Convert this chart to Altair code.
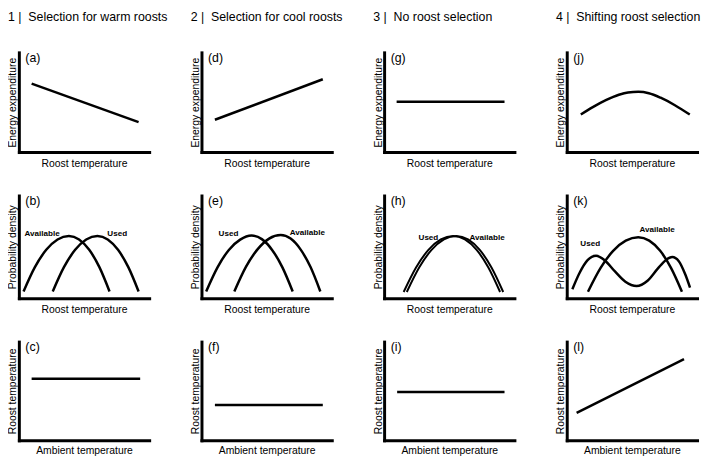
import altair as alt
import pandas as pd

FONT = "Liberation Sans"

# ---------------- data ----------------
col_numbers = ["1", "2", "3", "4"]
col_headers = ["Selection for warm roosts", "Selection for cool roosts",
               "No roost selection", "Shifting roost selection"]
y_titles = ["Energy expenditure", "Probability density", "Roost temperature"]
x_titles = ["Roost temperature", "Roost temperature", "Ambient temperature"]
letters = [["(a)", "(b)", "(c)"], ["(d)", "(e)", "(f)"],
           ["(g)", "(h)", "(i)"], ["(j)", "(k)", "(l)"]]

# row 1 : energy expenditure vs roost temperature
a_x = [0.098, 0.919]
a_y = [0.686, 0.300]
d_x = [0.103, 0.931]
d_y = [0.324, 0.730]
g_x = [0.096, 0.924]
g_y = [0.505, 0.505]
j_x = [0.108, 0.20, 0.30, 0.40, 0.47, 0.549, 0.63, 0.72, 0.83, 0.944]
j_y = [0.376, 0.45, 0.52, 0.575, 0.598, 0.604, 0.59, 0.545, 0.47, 0.376]

# row 2 : probability density of roost temperature (available / used)
b_avail_x = [0.036, 0.123, 0.210, 0.297, 0.384, 0.462, 0.540, 0.618, 0.696]
b_avail_y = [0.065, 0.302, 0.471, 0.572, 0.606, 0.572, 0.471, 0.302, 0.065]
b_used_x = [0.260, 0.346, 0.432, 0.517, 0.603, 0.682, 0.761, 0.840, 0.919]
b_used_y = [0.065, 0.302, 0.471, 0.572, 0.606, 0.572, 0.471, 0.302, 0.065]

e_used_x = [0.036, 0.123, 0.210, 0.297, 0.384, 0.463, 0.542, 0.621, 0.700]
e_used_y = [0.065, 0.300, 0.470, 0.570, 0.610, 0.575, 0.470, 0.300, 0.065]
e_avail_x = [0.252, 0.341, 0.430, 0.519, 0.608, 0.684, 0.760, 0.836, 0.912]
e_avail_y = [0.065, 0.305, 0.475, 0.580, 0.615, 0.580, 0.475, 0.305, 0.065]

h_used_x = [0.150, 0.245, 0.340, 0.435, 0.530, 0.620, 0.710, 0.800, 0.890]
h_used_y = [0.060, 0.299, 0.470, 0.572, 0.606, 0.572, 0.470, 0.299, 0.060]
h_avail_x = [0.174, 0.269, 0.364, 0.459, 0.554, 0.644, 0.734, 0.824, 0.914]
h_avail_y = [0.060, 0.299, 0.470, 0.572, 0.606, 0.572, 0.470, 0.299, 0.060]

k_used_x = [0.043, 0.10, 0.16, 0.225, 0.29, 0.37, 0.45, 0.536, 0.62, 0.70, 0.76, 0.81, 0.86, 0.91, 0.946]
k_used_y = [0.087, 0.25, 0.37, 0.413, 0.37, 0.26, 0.16, 0.118, 0.17, 0.29, 0.37, 0.40, 0.36, 0.23, 0.103]
k_avail_x = [0.163, 0.260, 0.356, 0.453, 0.549, 0.633, 0.717, 0.800, 0.884]
k_avail_y = [0.063, 0.295, 0.461, 0.560, 0.593, 0.560, 0.461, 0.295, 0.063]

# row 3 : roost temperature vs ambient temperature
c_x = [0.098, 0.931]
c_y = [0.623, 0.623]
f_x = [0.103, 0.931]
f_y = [0.357, 0.357]
i_x = [0.100, 0.924]
i_y = [0.490, 0.490]
l_x = [0.076, 0.900]
l_y = [0.277, 0.823]

# curve labels (text, x, y) in data units
b_labels = [("Available", 0.178, 0.625), ("Used", 0.755, 0.625)]
e_labels = [("Used", 0.207, 0.622), ("Available", 0.812, 0.637)]
h_labels = [("Used", 0.34, 0.587), ("Available", 0.79, 0.587)]
k_labels = [("Used", 0.18, 0.526), ("Available", 0.693, 0.663)]

LINES = {
    (0, 0): [("a", a_x, a_y)],
    (1, 0): [("d", d_x, d_y)],
    (2, 0): [("g", g_x, g_y)],
    (3, 0): [("j", j_x, j_y)],
    (0, 1): [("Available", b_avail_x, b_avail_y), ("Used", b_used_x, b_used_y)],
    (1, 1): [("Used", e_used_x, e_used_y), ("Available", e_avail_x, e_avail_y)],
    (2, 1): [("Used", h_used_x, h_used_y), ("Available", h_avail_x, h_avail_y)],
    (3, 1): [("Used", k_used_x, k_used_y), ("Available", k_avail_x, k_avail_y)],
    (0, 2): [("c", c_x, c_y)],
    (1, 2): [("f", f_x, f_y)],
    (2, 2): [("i", i_x, i_y)],
    (3, 2): [("l", l_x, l_y)],
}
LABELS = {(0, 1): b_labels, (1, 1): e_labels, (2, 1): h_labels, (3, 1): k_labels}

# ---------------- layout / style ----------------
PANEL_W = 132
ROW_H = [101, 104, 100]
X_TITLE_PAD = [7, 7, 5.5]
LETTER_X = 0.05
LETTER_Y = 1.0

XS = alt.Scale(domain=[0, 1], nice=False, zero=False)
YS = alt.Scale(domain=[0, 1], nice=False, zero=False)


def make_panel(col, row):
    recs = []
    for name, xs, ys in LINES[(col, row)]:
        for idx, (xv, yv) in enumerate(zip(xs, ys)):
            recs.append({"series": name, "i": idx, "x": xv, "y": yv})
    df = pd.DataFrame(recs)
    xenc = alt.X("x:Q", scale=XS,
                 axis=alt.Axis(title=x_titles[row], titlePadding=X_TITLE_PAD[row]))
    yenc = alt.Y("y:Q", scale=YS, axis=alt.Axis(title=y_titles[row], titlePadding=1))
    sw = 2.0 if (col, row) == (2, 1) else 2.5
    line = alt.Chart(df).mark_line(
        color="black", strokeWidth=sw, interpolate="monotone"
    ).encode(x=xenc, y=yenc, detail="series:N", order="i:Q")

    ldf = pd.DataFrame({"t": [letters[col][row]], "x": [LETTER_X], "y": [LETTER_Y]})
    letter = alt.Chart(ldf).mark_text(
        align="left", baseline="top", font=FONT, fontSize=12.5, color="black"
    ).encode(x=xenc, y=yenc, text="t:N")
    layers = [line, letter]

    if (col, row) in LABELS:
        lab = LABELS[(col, row)]
        labdf = pd.DataFrame({"t": [t for t, _, _ in lab],
                              "x": [xv for _, xv, _ in lab],
                              "y": [yv for _, _, yv in lab]})
        layers.append(alt.Chart(labdf).mark_text(
            align="center", baseline="middle", font=FONT, fontSize=8.2,
            fontWeight="bold", color="black"
        ).encode(x=xenc, y=yenc, text="t:N"))

    ch = alt.layer(*layers).properties(width=PANEL_W, height=ROW_H[row])
    if row == 0:
        ch = ch.properties(title=alt.TitleParams(
            text=f"{col_numbers[col]} |\u00a0 {col_headers[col]}",
            anchor="start", offset=29, fontSize=12.5, font=FONT,
            fontWeight="normal", color="black"))
    return ch


panels = [make_panel(c, r) for r in range(3) for c in range(4)]

chart = alt.concat(*panels, columns=4, spacing={"row": 44, "column": 53},
                   bounds="flush").properties(
    padding=0
).configure_view(stroke=None).configure_axis(
    domainColor="black", domainWidth=3, domainCap="square",
    ticks=False, labels=False, grid=False,
    titleFont=FONT, titleFontSize=10.5, titleFontWeight="normal", titleColor="black"
)

chart.save("out.html", embed_options={"renderer": "svg", "actions": False})
